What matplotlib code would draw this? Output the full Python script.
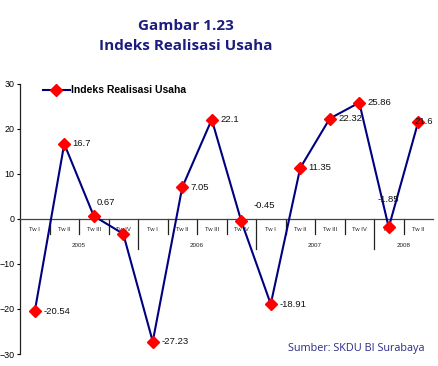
import matplotlib.pyplot as plt

# data
quarters = ["Tw I", "Tw II", "Tw III", "Tw IV",
            "Tw I", "Tw II", "Tw III", "Tw IV",
            "Tw I", "Tw II", "Tw III", "Tw IV",
            "Tw I", "Tw II"]
years = ["2005", "2006", "2007", "2008"]
year_len = [4, 4, 4, 2]
values = [-20.54, 16.7, 0.67, -3.3,
          -27.23, 7.05, 22.1, -0.45,
          -18.91, 11.35, 22.32, 25.86,
          -1.85, 21.6]
labels = ["-20.54", "16.7", "0.67", None,
          "-27.23", "7.05", "22.1", "-0.45",
          "-18.91", "11.35", "22.32", "25.86",
          "-1.85", "21.6"]

NAVY = "#000080"
TITLE_C = "#1c1c80"

fig = plt.figure(figsize=(4.38, 3.66), dpi=100)
ax = fig.add_axes([20 / 438, 1 - 354 / 366, 413 / 438, 270 / 366])

x = list(range(len(values)))
ax.plot(x, values, color=NAVY, lw=1.5, marker="D", markersize=6.3,
        markerfacecolor="#ff0000", markeredgecolor="#ff0000",
        zorder=5, label="Indeks Realisasi Usaha", clip_on=False)

ax.set_xlim(-0.5, len(values) - 0.5)
ax.set_ylim(-30, 30)
ax.set_yticks([-30, -20, -10, 0, 10, 20, 30])
ax.tick_params(axis="y", labelsize=6.4, length=2.5, width=0.8, pad=1.3)
for t in ax.get_yticklabels():
    t.set_family("Liberation Sans")
ax.set_xticks([])

for s in ["top", "right"]:
    ax.spines[s].set_visible(False)
ax.spines["bottom"].set_position(("data", 0))
ax.spines["bottom"].set_color("#444444")
ax.spines["left"].set_color("#222222")
ax.spines["bottom"].set_linewidth(0.9)
ax.spines["left"].set_linewidth(0.9)

# category axis: quarter ticks and year separators
bounds = []
start = 0
for n in year_len:
    start += n
    bounds.append(start - 0.5)
for k in range(1, len(values)):
    b = k - 0.5
    depth = -6.7 if b in bounds else -3.3
    ax.plot([b, b], [0, depth], color="#222222", lw=0.9, zorder=2,
            clip_on=False)
for i, q in enumerate(quarters):
    ax.text(i, -2.4, q, fontsize=4.3, ha="center", va="center",
            family="Liberation Sans", color="#222222")
start = 0
for y, n in zip(years, year_len):
    ax.text(start + (n - 1) / 2, -5.8, y, fontsize=4.5, ha="center",
            va="center", family="Liberation Sans", color="#222222")
    start += n

# data labels
offsets = {2: (2, 10, "left"), 7: (9, 11.5, "left"), 12: (0, 20, "center"),
           13: (-3, 0, "left")}
for i, (v, lab) in enumerate(zip(values, labels)):
    if lab is None:
        continue
    dx, dy, ha = offsets.get(i, (6, 0, "left"))
    ax.annotate(lab, (i, v), xytext=(dx, dy), textcoords="offset points",
                fontsize=6.8, ha=ha, va="center", family="Liberation Sans",
                color="#111111", zorder=6)

leg = ax.legend(loc="upper left", bbox_to_anchor=(0.045, 1.01), frameon=False,
                prop={"family": "Liberation Sans", "weight": "bold",
                      "size": 7.5},
                handlelength=2.6, handletextpad=0.1, borderaxespad=0)

fig.text(186 / 438, 1 - 26 / 366, "Gambar 1.23", fontsize=11,
         fontweight="bold", family="Open Sans", color=TITLE_C,
         ha="center", va="center")
fig.text(186 / 438, 1 - 46 / 366, "Indeks Realisasi Usaha", fontsize=11,
         fontweight="bold", family="Open Sans", color=TITLE_C,
         ha="center", va="center")
fig.text(424 / 438, 1 - 349 / 366, "Sumber: SKDU BI Surabaya", fontsize=7.8,
         family="Open Sans", color="#2b2b8a", ha="right", va="center")

fig.savefig("out.png", dpi=100)
